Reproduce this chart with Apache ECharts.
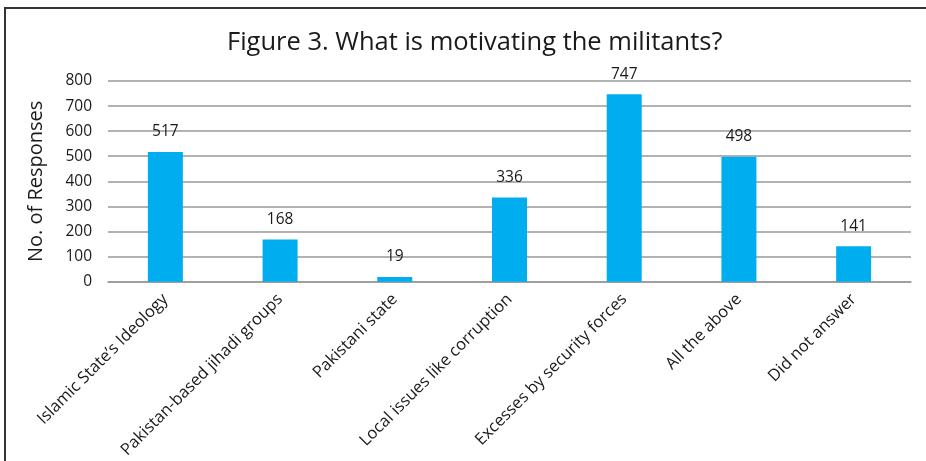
<!DOCTYPE html>
<html>
<head>
<meta charset="utf-8">
<script src="https://cdn.jsdelivr.net/npm/echarts@6/dist/echarts.min.js"></script>
<style>
  html, body { margin: 0; padding: 0; background: #fff; overflow: hidden; }
  #frame { position: absolute; left: 4px; top: 7px; width: 940px; height: 470px;
           border-left: 2px solid #333; border-top: 2px solid #333; }
  #chart { position: absolute; left: 0; top: 0; width: 926px; height: 461px; }
</style>
</head>
<body>
<div id="frame"></div>
<div id="chart"></div>
<script>
// data
var categories = [
  'Islamic State\u2019s Ideology',
  'Pakistan-based jihadi groups',
  'Pakistani state',
  'Local issues like corruption',
  'Excesses by security forces',
  'All the above',
  'Did not answer'
];
var responses = [517, 168, 19, 336, 747, 498, 141];

var font = '"Open Sans", "Noto Sans", sans-serif';

var chart = echarts.init(document.getElementById('chart'), null, { renderer: 'canvas' });

chart.setOption({
  animation: false,
  title: {
    text: 'Figure 3. What is motivating the militants?',
    left: 222,
    top: 25,
    textStyle: { fontFamily: font, fontSize: 25.5, fontWeight: 'normal', color: '#1a1a1a' }
  },
  grid: { left: 108, right: 15, top: 81, bottom: 179, containLabel: false },
  xAxis: {
    type: 'category',
    data: categories,
    axisLine: { lineStyle: { color: '#999', width: 1.5 } },
    axisTick: { show: false },
    axisLabel: {
      interval: 0,
      rotate: 45,
      margin: 15,
      fontFamily: font,
      fontSize: 16.5,
      color: '#1a1a1a'
    }
  },
  yAxis: {
    type: 'value',
    min: 0,
    max: 800,
    interval: 100,
    name: 'No. of Responses',
    nameLocation: 'middle',
    nameGap: 62,
    nameTextStyle: { fontFamily: font, fontSize: 20, color: '#1a1a1a' },
    axisLine: { show: false },
    axisTick: { show: false },
    axisLabel: { fontFamily: font, fontSize: 15.5, color: '#1a1a1a', margin: 16 },
    splitLine: { lineStyle: { color: '#999', width: 1.5 } }
  },
  series: [{
    type: 'bar',
    data: responses,
    barWidth: 35,
    itemStyle: { color: '#00AEEF' },
    label: {
      show: true,
      position: 'top',
      distance: 12,
      fontFamily: font,
      fontSize: 15.5,
      color: '#1a1a1a'
    }
  }]
});
</script>
</body>
</html>
